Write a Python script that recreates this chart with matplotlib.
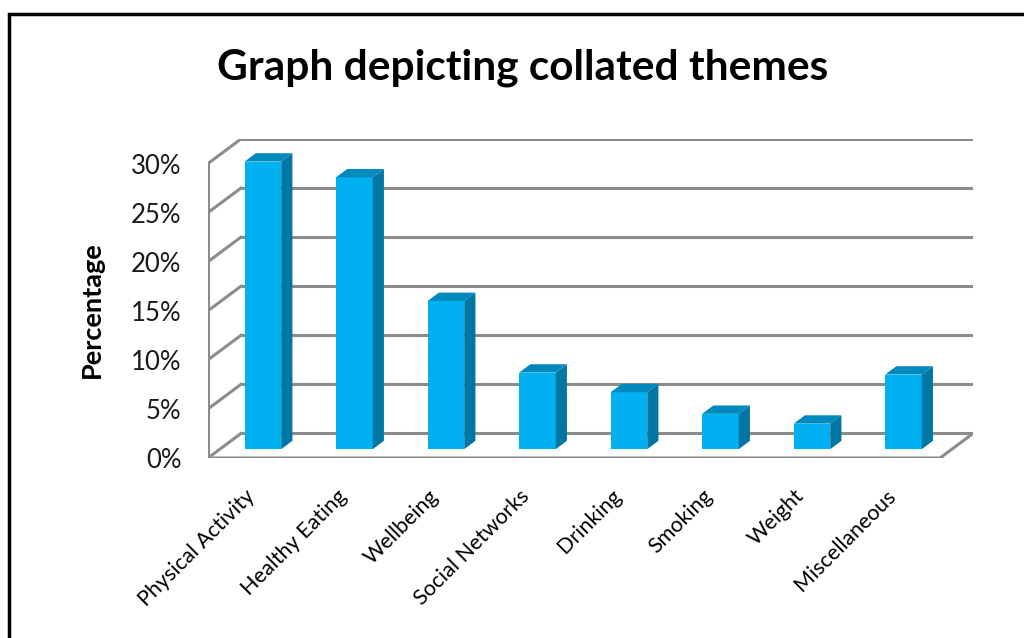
import numpy as np
import matplotlib
matplotlib.use("Agg")
import matplotlib.pyplot as plt
from matplotlib.patches import Polygon, Rectangle
from matplotlib.ticker import FuncFormatter

plt.rcParams['font.family'] = ['Lato', 'DejaVu Sans']

# themes and their share of responses (%)
themes = ["Physical Activity", "Healthy Eating", "Wellbeing", "Social Networks",
          "Drinking", "Smoking", "Weight", "Miscellaneous"]
shares = [29.3, 27.7, 15.1, 7.8, 5.8, 3.6, 2.6, 7.6]
y_ticks = [0, 5, 10, 15, 20, 25, 30]

front_col = "#00b0f0"
side_col = "#0076a3"
top_col = "#0089bd"
grid_col = "#8c8c8c"

# depth of the chart box (x in category units, y in percent)
DX, DY = 0.36, 2.5
# bars sit partway into the box
bar_off = 0.36
bar_deep = 0.34
bar_w = 0.40

fig = plt.figure(figsize=(10.24, 6.38), dpi=100)
W, H = 1024, 638
ax = fig.add_axes([208 / W, (H - 458) / H, (973 - 208) / W, (458 - 139) / H])
n = len(themes)
ax.set_xlim(-0.5, n - 0.5 + DX)
ax.set_ylim(0, max(y_ticks) + DY)
for s in ax.spines.values():
    s.set_visible(False)

# back wall gridlines and the side wall
for v in y_ticks:
    ax.plot([-0.5 + DX, n - 0.5 + DX], [v + DY, v + DY], color=grid_col, lw=2.2,
            zorder=1, solid_capstyle='butt')
    ax.plot([-0.5, -0.5 + DX], [v, v + DY], color=grid_col, lw=2.2, zorder=1)
ax.plot([-0.5, -0.5], [0, max(y_ticks)], color=grid_col, lw=2.2, zorder=1)
# floor
ax.plot([-0.5, n - 0.5, n - 0.5 + DX], [0, 0, DY], color=grid_col, lw=2.2,
        zorder=1, solid_joinstyle='miter')

# bars: front faces via ax.bar, then side and top faces
x = np.arange(n)
ox, oy = bar_off * DX, bar_off * DY
sx, sy = bar_deep * DX, bar_deep * DY
ax.bar(x + 0.1, shares, width=bar_w, bottom=oy, color=front_col, zorder=3)
for xi, v in zip(x + 0.1, shares):
    l, r = xi - bar_w / 2, xi + bar_w / 2
    top = oy + v
    ax.add_patch(Polygon([(r, oy), (r + sx, oy + sy), (r + sx, top + sy), (r, top)],
                         closed=True, color=side_col, zorder=3, lw=0))
    ax.add_patch(Polygon([(l, top), (r, top), (r + sx, top + sy), (l + sx, top + sy)],
                         closed=True, color=top_col, zorder=3, lw=0))

ax.set_yticks(y_ticks)
ax.yaxis.set_major_formatter(FuncFormatter(lambda v, p: f"{v:.0f}%"))
ax.tick_params(axis='y', length=0, pad=19, labelsize=18.5, labelcolor="#1a1a1a")
ax.set_xticks(x + 0.06)
ax.set_xticklabels(themes, rotation=45, ha='right', fontsize=15.5)
ax.tick_params(axis='x', length=0, pad=20)

fig.text(92 / W, 1 - 310 / H, "Percentage", rotation=90, ha='center', va='center',
         fontsize=19.5, fontweight='bold')
fig.text(523 / W, 1 - 68 / H, "Graph depicting collated themes", ha='center',
         va='center', fontsize=30.5, fontweight='bold')

# outer frame
fig.patches.append(Rectangle((9 / W, -0.05), 1.1, 1 - 14 / H + 0.05, transform=fig.transFigure,
                             fill=False, edgecolor="black", lw=2.5))

fig.savefig("out.png", dpi=100)
